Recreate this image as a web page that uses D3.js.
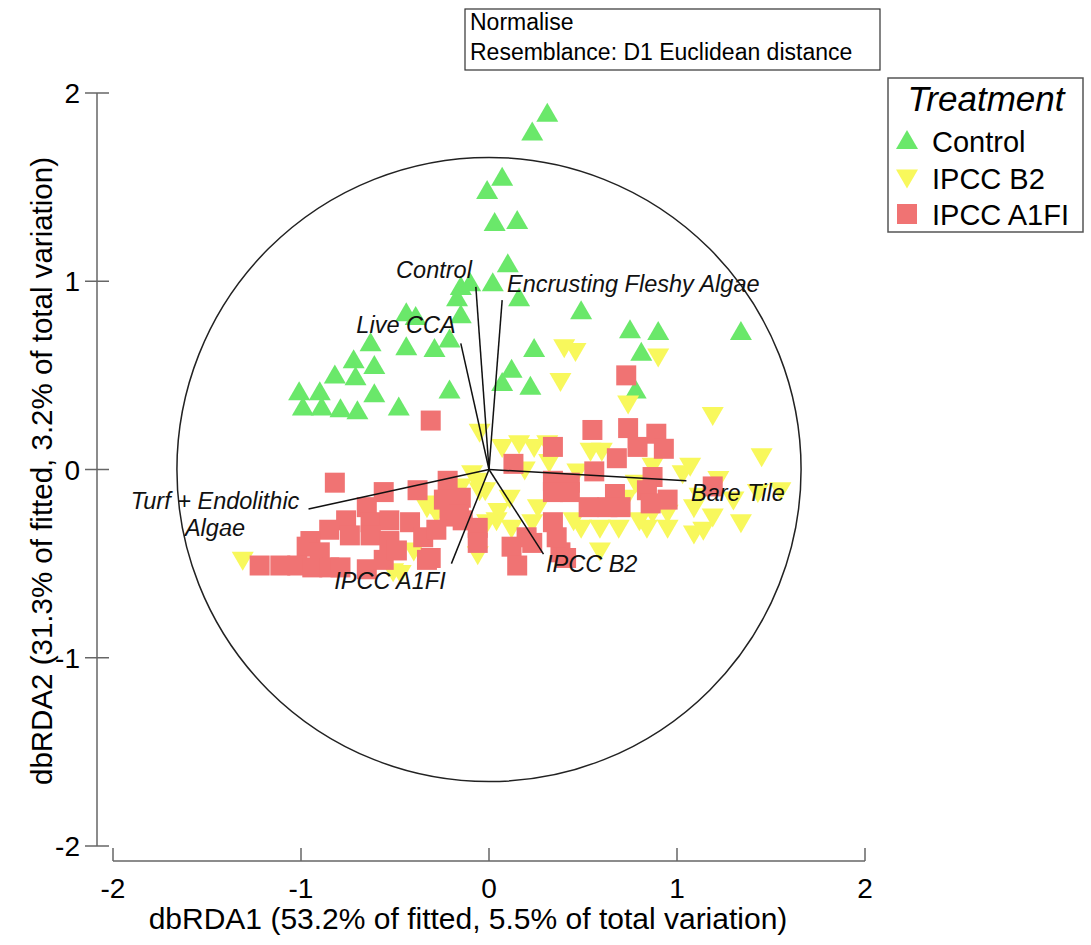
<!DOCTYPE html>
<html lang="en">
<head>
<meta charset="UTF-8">
<title>dbRDA</title>
<script src="https://d3js.org/d3.v7.min.js"></script>
<style>
  body { margin: 0; background: #fff; }
  svg text { font-family: "Liberation Sans", Arial, sans-serif; }
</style>
</head>
<body>
<div id="chart"></div>
<script>
// sample scores (dbRDA1, dbRDA2)
var control = [
  [0.31,1.89],[0.23,1.79],[0.07,1.55],[-0.01,1.48],[0.03,1.31],[0.15,1.32],[0.10,1.09],
  [0.02,0.99],[-0.15,0.97],[-0.10,0.99],[-0.17,0.91],[0.16,0.91],[0.49,0.84],[-0.15,0.82],
  [-0.44,0.83],[-0.39,0.81],[-0.63,0.67],[-0.44,0.65],[-0.29,0.64],[-0.21,0.69],[-0.72,0.58],
  [-0.61,0.55],[-0.82,0.50],[-0.71,0.49],[0.24,0.64],[0.12,0.53],[0.07,0.46],[0.22,0.44],
  [-1.01,0.41],[-0.90,0.41],[-0.61,0.40],[-0.21,0.42],[-0.99,0.33],[-0.89,0.33],[-0.79,0.32],
  [-0.70,0.31],[-0.48,0.33],[0.75,0.74],[0.90,0.73],[1.34,0.73],[0.81,0.62],[0.78,0.42]
];
var ipccB2 = [
  [0.40,0.65],[0.46,0.63],[0.38,0.47],[0.90,0.60],[0.74,0.35],[1.19,0.29],[1.45,0.07],
  [1.07,0.02],[1.03,-0.02],[1.22,-0.05],[1.55,-0.11],[1.43,-0.12],[0.95,-0.23],[1.09,-0.20],
  [1.19,-0.25],[1.34,-0.28],[1.14,-0.32],[0.95,-0.31],[0.84,-0.31],[1.09,-0.34],[0.80,-0.27],
  [0.87,-0.23],[0.69,-0.31],[0.59,-0.31],[0.49,-0.31],[0.45,-0.27],[0.26,-0.20],[0.23,-0.28],
  [0.12,-0.31],[0.04,-0.27],[0.05,-0.22],[0.11,-0.15],[-0.02,-0.11],[-0.06,-0.06],[-0.21,-0.22],
  [-0.31,-0.18],[-0.28,-0.23],[-0.33,-0.20],[-0.15,-0.09],[-0.05,-0.11],[-0.01,-0.28],
  [-0.40,-0.43],[-0.47,-0.55],[-0.06,-0.45],[-1.31,-0.48],[0.59,-0.43],[0.41,-0.11],
  [0.78,-0.07],[0.47,-0.01],[0.87,0.02],[0.60,0.10],[0.32,0.04],[-0.05,0.20],[0.07,0.12],
  [0.16,0.14],[0.24,0.12],[0.31,0.14],[0.54,0.10],[0.73,-0.15],[1.12,-0.14],[1.30,-0.16],
  [-0.09,-0.02],[0.19,0.00],[-0.51,-0.54]
];
var ipccA1FI = [
  [-0.31,0.26],[-0.82,-0.07],[-0.56,-0.12],[-0.38,-0.11],[-0.22,-0.06],[-0.15,-0.15],
  [-0.24,-0.16],[-0.65,-0.20],[-0.76,-0.27],[-0.63,-0.28],[-0.53,-0.27],[-0.42,-0.28],
  [-0.21,-0.25],[-0.14,-0.27],[-0.06,-0.31],[-0.85,-0.32],[-0.95,-0.38],[-0.74,-0.35],
  [-0.63,-0.35],[-0.53,-0.38],[-0.35,-0.36],[-0.28,-0.32],[-0.06,-0.39],[-0.97,-0.41],
  [-0.90,-0.44],[-1.22,-0.51],[-1.11,-0.51],[-1.02,-0.51],[-0.94,-0.52],[-0.85,-0.52],
  [-0.79,-0.52],[-0.65,-0.53],[-0.56,-0.48],[-0.33,-0.48],[-0.49,-0.43],[-0.31,-0.47],
  [-0.16,-0.24],
  [0.13,0.03],[0.34,0.12],[0.55,0.21],[0.74,0.22],[0.89,0.19],[0.79,0.12],[0.93,0.11],
  [0.68,0.06],[0.56,-0.01],[0.34,-0.06],[0.43,-0.07],[0.87,-0.04],[1.19,-0.09],[0.34,-0.12],
  [0.43,-0.12],[0.67,-0.13],[0.84,-0.11],[0.95,-0.16],[0.86,-0.18],[0.53,-0.20],[0.63,-0.20],
  [0.70,-0.20],[0.34,-0.28],[0.20,-0.36],[0.12,-0.41],[0.15,-0.51],[0.38,-0.44],[0.23,-0.39],
  [0.36,-0.36],[0.41,-0.47],[0.73,0.50]
];

// vector overlay: end points
var vecNames = ["Control", "Encrusting Fleshy Algae", "Live CCA", "Turf + Endolithic\nAlgae", "IPCC A1FI", "IPCC B2", "Bare Tile"];
var vecX = [-0.07, 0.07, -0.15, -0.96, -0.20, 0.29, 1.05];
var vecY = [0.97, 0.90, 0.67, -0.21, -0.50, -0.45, -0.06];
var circleRadius = 1.66;

var xTicks = [-2, -1, 0, 1, 2];
var yTicks = [2, 1, 0, -1, -2];
var treatments = ["Control", "IPCC B2", "IPCC A1FI"];
var colors = ["#6ae86a", "#f8f85c", "#f07373"];

var width = 1091, height = 945;
var svg = d3.select("#chart").append("svg")
  .attr("width", width).attr("height", height);

var x = d3.scaleLinear().domain([-2, 2]).range([113, 865]);
var y = d3.scaleLinear().domain([-2, 2]).range([846, 93]);

// y axis
svg.append("line").attr("x1", 97).attr("x2", 97).attr("y1", y(2)).attr("y2", y(-2))
  .attr("stroke", "#666").attr("stroke-width", 1.5);
svg.selectAll(".ytick").data(yTicks).enter().append("line")
  .attr("x1", 85).attr("x2", 109).attr("y1", d => y(d)).attr("y2", d => y(d))
  .attr("stroke", "#666").attr("stroke-width", 1.5);
svg.selectAll(".ylab").data(yTicks).enter().append("text")
  .attr("x", 80).attr("y", d => y(d) + 10).attr("text-anchor", "end")
  .style("font-size", "28px").text(d => d);

// x axis
svg.append("line").attr("y1", 861).attr("y2", 861).attr("x1", x(-2)).attr("x2", x(2))
  .attr("stroke", "#666").attr("stroke-width", 1.5);
svg.selectAll(".xtick").data(xTicks).enter().append("line")
  .attr("y1", 848).attr("y2", 861).attr("x1", d => x(d)).attr("x2", d => x(d))
  .attr("stroke", "#666").attr("stroke-width", 1.5);
svg.selectAll(".xlab").data(xTicks).enter().append("text")
  .attr("y", 898).attr("x", d => x(d)).attr("text-anchor", "middle")
  .style("font-size", "28px").text(d => d);

svg.append("text").attr("x", 468).attr("y", 929).attr("text-anchor", "middle")
  .style("font-size", "30px").text("dbRDA1 (53.2% of fitted, 5.5% of total variation)");
svg.append("text").attr("transform", "translate(52,471) rotate(-90)").attr("text-anchor", "middle")
  .style("font-size", "29.5px").text("dbRDA2 (31.3% of fitted, 3.2% of total variation)");

// correlation circle
svg.append("circle").attr("cx", x(0)).attr("cy", y(0))
  .attr("r", x(circleRadius) - x(0))
  .attr("fill", "none").attr("stroke", "#222").attr("stroke-width", 1.5);

// markers
var triUp = "M0,-11L11,8L-11,8Z";
var triDown = "M0,11L11,-8L-11,-8Z";
var square = "M-10,-10H10V10H-10Z";
var shapes = [triUp, triDown, square];
var groups = [control, ipccB2, ipccA1FI];

groups.forEach(function(g, i) {
  svg.append("g").selectAll("path").data(g).enter().append("path")
    .attr("d", shapes[i])
    .attr("transform", d => "translate(" + x(d[0]) + "," + y(d[1]) + ")")
    .attr("fill", colors[i]);
});

// vectors
var vecs = vecNames.map((n, i) => ({name: n, x: vecX[i], y: vecY[i]}));
svg.append("g").selectAll("line").data(vecs).enter().append("line")
  .attr("x1", x(0)).attr("y1", y(0))
  .attr("x2", d => x(d.x)).attr("y2", d => y(d.y))
  .attr("stroke", "#111").attr("stroke-width", 1.5);

// vector labels, placed by hand next to the tips
var labelPos = {
  "Control": [434, 278, "middle"],
  "Encrusting Fleshy Algae": [507, 292, "start"],
  "Live CCA": [406, 333, "middle"],
  "Turf + Endolithic\nAlgae": [215, 509, "middle"],
  "IPCC A1FI": [390, 589, "middle"],
  "IPCC B2": [546, 572, "start"],
  "Bare Tile": [691, 501, "start"]
};
vecs.forEach(function(v) {
  var p = labelPos[v.name];
  var t = svg.append("text").attr("x", p[0]).attr("y", p[1]).attr("text-anchor", p[2])
    .style("font-size", "23.5px").style("font-style", "italic").attr("fill", "#111");
  v.name.split("\n").forEach(function(s, k) {
    t.append("tspan").attr("x", p[0]).attr("dy", k ? 27 : 0).text(s);
  });
});

// note box
svg.append("rect").attr("x", 465).attr("y", 9).attr("width", 415).attr("height", 61)
  .attr("fill", "#fff").attr("stroke", "#333").attr("stroke-width", 1.2);
svg.append("text").attr("x", 470).attr("y", 30).style("font-size", "23px").text("Normalise");
svg.append("text").attr("x", 470).attr("y", 60).style("font-size", "23px").text("Resemblance: D1 Euclidean distance");

// legend
var lg = svg.append("g");
lg.append("rect").attr("x", 888).attr("y", 78).attr("width", 195).attr("height", 154)
  .attr("fill", "#fff").attr("stroke", "#555").attr("stroke-width", 1.5);
lg.append("text").attr("x", 986).attr("y", 111).attr("text-anchor", "middle")
  .style("font-size", "35px").style("font-style", "italic").text("Treatment");
treatments.forEach(function(t, i) {
  var yy = 141 + i * 36.5;
  lg.append("path").attr("d", shapes[i]).attr("fill", colors[i])
    .attr("transform", "translate(907," + yy + ")");
  lg.append("text").attr("x", 932).attr("y", yy + 11).style("font-size", "29px").text(t);
});
</script>
</body>
</html>
